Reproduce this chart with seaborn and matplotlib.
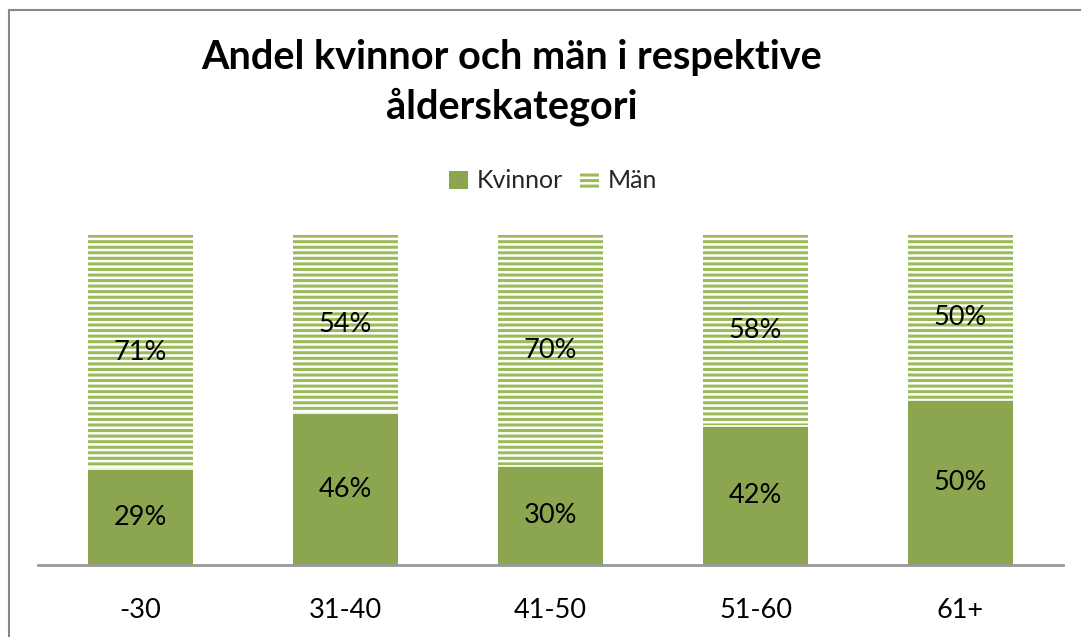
import pandas as pd
import matplotlib.pyplot as plt
import seaborn as sns
from matplotlib.patches import Patch, Rectangle

# data (percent per age group)
categories = ['-30', '31-40', '41-50', '51-60', '61+']
kvinnor = [29, 46, 30, 42, 50]
man = [71, 54, 70, 58, 50]

df = pd.DataFrame({'Ålder': categories, 'Kvinnor': kvinnor, 'Män': man})
df['Totalt'] = df['Kvinnor'] + df['Män']

sns.set_theme(style='white')
plt.rcParams['font.family'] = ['Lato', 'DejaVu Sans']
plt.rcParams['hatch.linewidth'] = 2.2

green = '#8CA650'
stripe = '#9BBB59'

fig = plt.figure(figsize=(10.81, 6.37), dpi=100)
ax = fig.add_axes([38 / 1081, 72 / 637, 1025 / 1081, 330 / 637])

# Män on top: full stack drawn first, Kvinnor drawn over it
sns.barplot(data=df, x='Ålder', y='Totalt', ax=ax, color='white',
            edgecolor=stripe, linewidth=0, hatch='---', width=0.51,
            saturation=1)
sns.barplot(data=df, x='Ålder', y='Kvinnor', ax=ax, color=green,
            linewidth=0, width=0.51, saturation=1)
# thin white gap between segments
for i, k in enumerate(df['Kvinnor']):
    ax.plot([i - 0.255, i + 0.255], [k, k], color='white', lw=1.2)

for i, row in df.iterrows():
    ax.text(i, row['Kvinnor'] / 2, f"{row['Kvinnor']}%", ha='center',
            va='center', fontsize=19.5, color='black')
    ax.text(i, row['Kvinnor'] + row['Män'] / 2, f"{row['Män']}%",
            ha='center', va='center', fontsize=19.5, color='black')

ax.set_xlim(-0.5, 4.5)
ax.set_ylim(0, 100)
ax.set_xlabel('')
ax.set_ylabel('')
ax.set_yticks([])
ax.tick_params(axis='x', length=0, labelsize=19.5, pad=24, colors='black')
sns.despine(ax=ax, left=True)
ax.spines['bottom'].set_color('#999999')
ax.spines['bottom'].set_linewidth(2)

fig.text(512 / 1081, 1 - 57 / 637, 'Andel kvinnor och män i respektive',
         ha='center', va='center', fontsize=28.5, fontweight='bold',
         color='black')
fig.text(512 / 1081, 1 - 107 / 637, 'ålderskategori',
         ha='center', va='center', fontsize=28.5, fontweight='bold',
         color='black')

handles = [Patch(facecolor=green, edgecolor=green, linewidth=0),
           Patch(facecolor='white', edgecolor=stripe, hatch='---', linewidth=0)]
fig.legend(handles, ['Kvinnor', 'Män'], loc='center', ncol=2,
           bbox_to_anchor=(553 / 1081, 1 - 181 / 637), frameon=False,
           fontsize=18, handlelength=0.75, handleheight=0.75,
           handletextpad=0.35, columnspacing=0.7)

# outer frame of the chart object
fig.patches.append(Rectangle((9 / 1081, -0.1), 1.2, 627 / 637 + 0.1,
                             transform=fig.transFigure, fill=False,
                             edgecolor='#888888', linewidth=1.5))

fig.savefig('out.png', dpi=100)
